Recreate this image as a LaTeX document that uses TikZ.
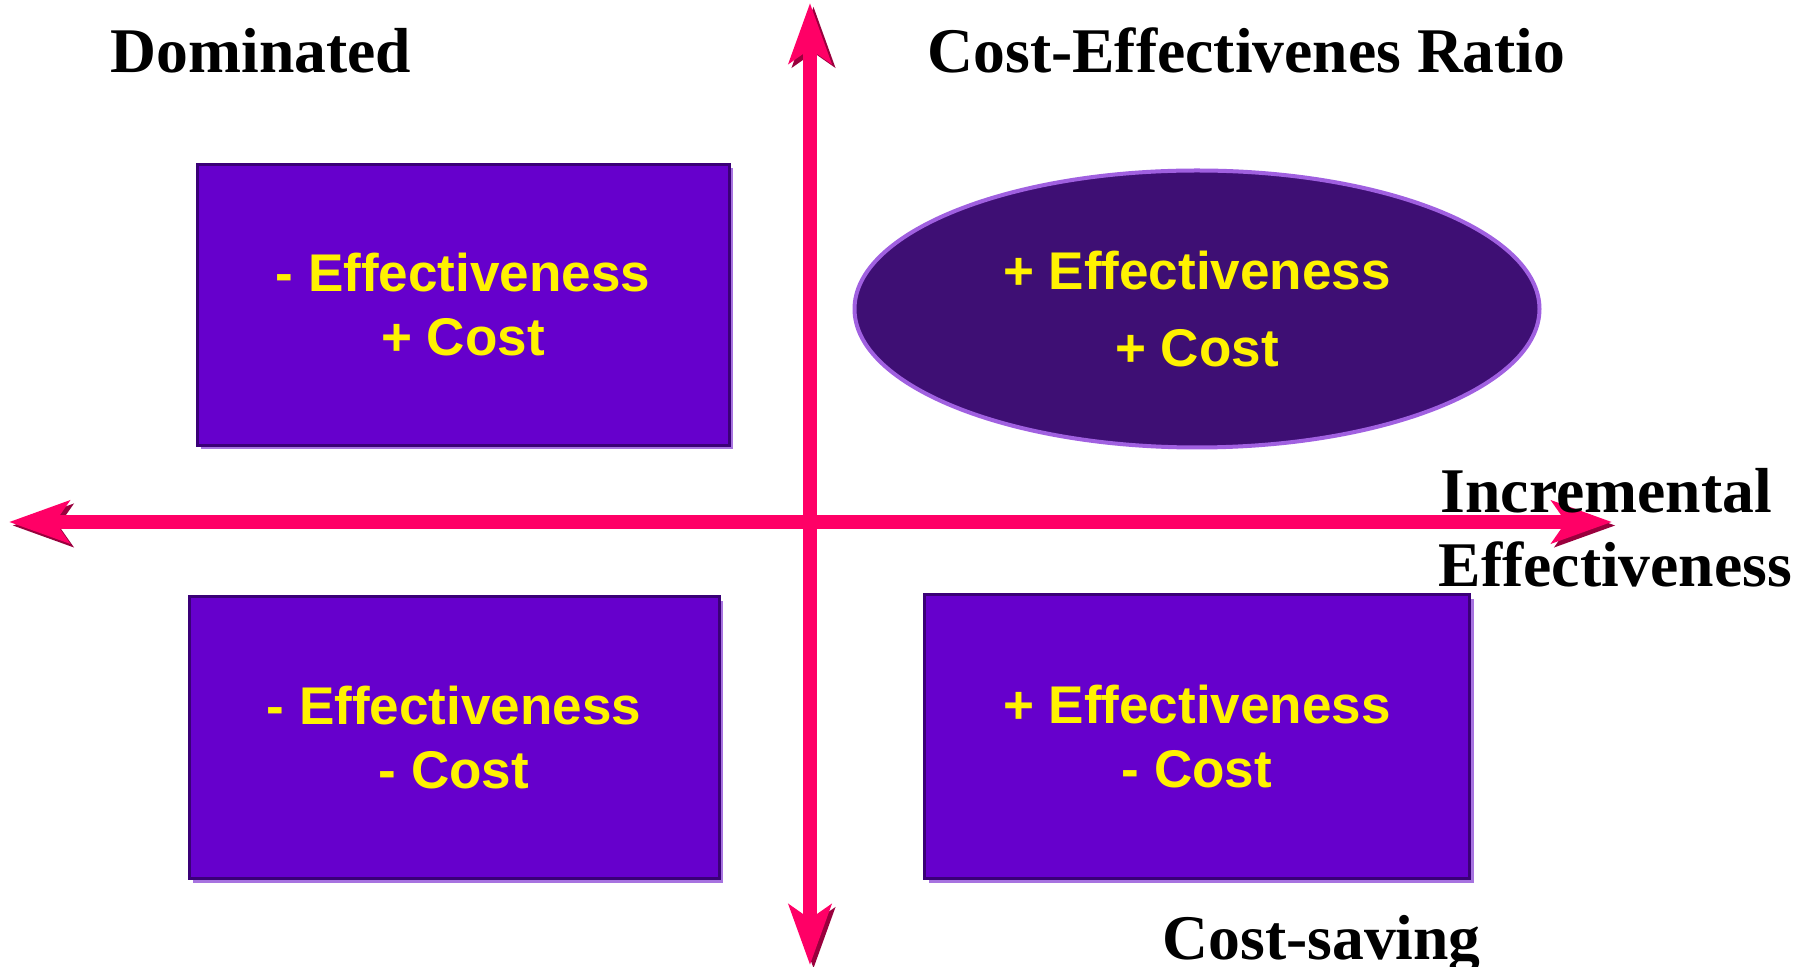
\documentclass[tikz,border=0pt]{standalone}
\usepackage{fontspec}
\setmainfont{Liberation Serif}
\newfontfamily\quadfont{Liberation Sans}
\usetikzlibrary{positioning}
\usetikzlibrary{shapes.geometric}
\usetikzlibrary{arrows.meta}
\definecolor{axispink}{HTML}{FF0066}
\definecolor{axisshade}{HTML}{99003D}
\definecolor{quadfill}{HTML}{6600CC}
\definecolor{quadedge}{HTML}{3A0077}
\definecolor{quadshade}{HTML}{A773E0}
\definecolor{ovalfill}{HTML}{3E0F74}
\definecolor{ovaledge}{HTML}{A060E0}
\tikzset{
    quadaxis/.style={line width=1.4mm, draw=axispink,
        {Stealth[length=6mm,width=4.2mm,inset=1.4mm]}-{Stealth[length=6mm,width=4.2mm,inset=1.4mm]},
        preaction={draw=axisshade, transform canvas={shift={(0.35mm,-0.35mm)}}}},
    quadbox/.style={rectangle, fill=quadfill, draw=quadedge, line width=0.3mm, inner sep=0pt,
        align=center, text=yellow, font={\quadfont\bfseries\fontsize{15.1pt}{18.2pt}\selectfont},
        preaction={fill=quadshade, transform canvas={shift={(0.4mm,-0.4mm)}}}},
    ovalbox/.style={ellipse, fill=ovalfill, draw=ovaledge, line width=0.4mm, inner sep=0pt,
        align=center, text=yellow, font={\quadfont\bfseries\fontsize{15.1pt}{21.9pt}\selectfont}},
    heading/.style={font={\bfseries\fontsize{18.1pt}{21pt}\selectfont}, inner sep=0pt, anchor=base west},
}

\begin{document}
\begin{tikzpicture}[x=0.1mm,y=-0.1mm]
    \useasboundingbox (0,0) rectangle (1799,967);

    \node (domin) [quadbox, minimum width=53.2mm, minimum height=28.1mm] at (463,305)
        {- Effectiveness\\+ Cost};
    \node (ratio) [ovalbox, minimum width=68.5mm, minimum height=27.7mm] at (1197,309)
        {+ Effectiveness\\+ Cost};
    \node (lower) [quadbox, minimum width=53.0mm, minimum height=28.2mm] at (454,738)
        {- Effectiveness\\- Cost};
    \node (saving) [quadbox, minimum width=54.5mm, minimum height=28.4mm] at (1197,737)
        {+ Effectiveness\\- Cost};

    \coordinate (north) at (810,3);
    \coordinate (south) at (810,965);
    \coordinate (west)  at (9,522);
    \coordinate (east)  at (1612,522);
    \draw[quadaxis] (north) -- (south);
    \draw[quadaxis] (west) -- (east);

    \node (dominlabel)  [heading] at (110,73)   {Dominated};
    \node (ratiolabel)  [heading] at (927,73)   {Cost-Effectivenes Ratio};
    \node (incrlabel)   [heading] at (1440,513) {Incremental};
    \node (efflabel)    [heading] at (1438,587) {Effectiveness};
    \node (savinglabel) [heading] at (1162,960) {Cost-saving};
\end{tikzpicture}
\end{document}
